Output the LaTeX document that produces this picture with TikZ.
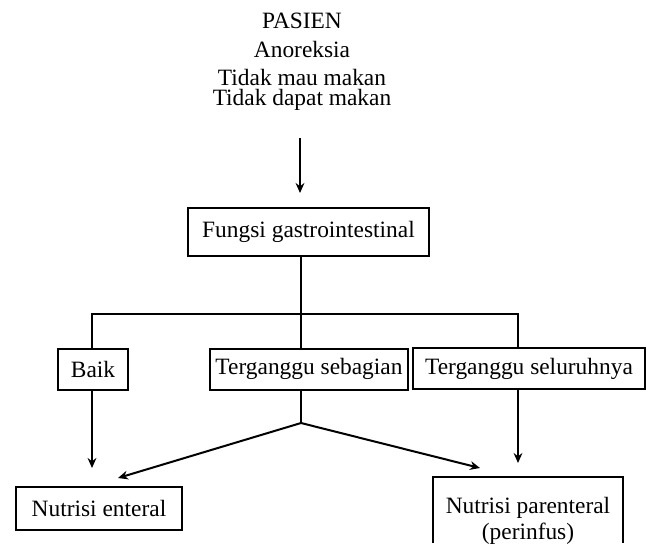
\documentclass[tikz,border=0pt]{standalone}
\usepackage{fontspec}
\setmainfont{Liberation Serif}
\usetikzlibrary{arrows.meta}
\begin{document}
\begin{tikzpicture}[x=0.5pt,y=-0.5pt,
  every node/.style={font=\fontsize{11.7}{13}\selectfont},
  box/.style={draw, line width=1pt, inner sep=0pt, minimum height=20.5pt},
  lbl/.style={inner sep=0pt},
  arr/.style={-{Stealth[length=5pt,width=4.4pt]}, line width=1pt},
  conn/.style={line width=1pt}]
\useasboundingbox (0,0) rectangle (647,543);

% patient header
\node[lbl] (pasien) at (302,21) {PASIEN};
\node[lbl] (anor) at (302,49) {Anoreksia};
\node[lbl] (mau) at (302,77) {Tidak mau makan};
\node[lbl] (dapat) at (302,100) {Tidak dapat makan};

% boxes
\node[box, minimum width=120.5pt, minimum height=24pt] (fungsi) at (308.5,232) {Fungsi gastrointestinal};
\node[box, minimum width=35pt] (baik) at (93,369.5) {Baik};
\node[box, minimum width=99pt] (sebagian) at (309,369) {Terganggu sebagian};
\node[box, minimum width=116pt] (seluruh) at (529,368.5) {Terganggu seluruhnya};
\node[box, minimum width=83pt, minimum height=21.5pt] (enteral) at (99,508.5) {Nutrisi enteral};
\node[lbl, align=center] (parenteral) at (528,521) {Nutrisi parenteral\\(perinfus)};
% open-bottom frame around the parenteral label
\draw[conn] (433,543) |- (623,477) -- (623,543);

% header arrow
\coordinate (ftop) at (300,138);
\coordinate (fin) at (300,193);
\draw[arr] (ftop) -- (fin);

% branching bar
\coordinate (bar) at (301,314);
\coordinate (barL) at (92,314);
\coordinate (barR) at (518,314);
\draw[conn] (fungsi.south -| bar) -- (bar);
\draw[conn] (baik.north -| barL) |- (barR) -- (seluruh.north -| barR);
\draw[conn] (bar) -- (sebagian.north -| bar);

% outcomes
\coordinate (junc) at (301,423);
\coordinate (tipE) at (118,478);
\coordinate (tipP) at (480,468);
\coordinate (tipB) at (92,468);
\coordinate (tipS) at (518,463);
\draw[conn] (sebagian.south -| junc) -- (junc);
\draw[arr] (junc) -- (tipE);
\draw[arr] (junc) -- (tipP);
\draw[arr] (baik.south -| tipB) -- (tipB);
\draw[arr] (seluruh.south -| tipS) -- (tipS);
\end{tikzpicture}
\end{document}
